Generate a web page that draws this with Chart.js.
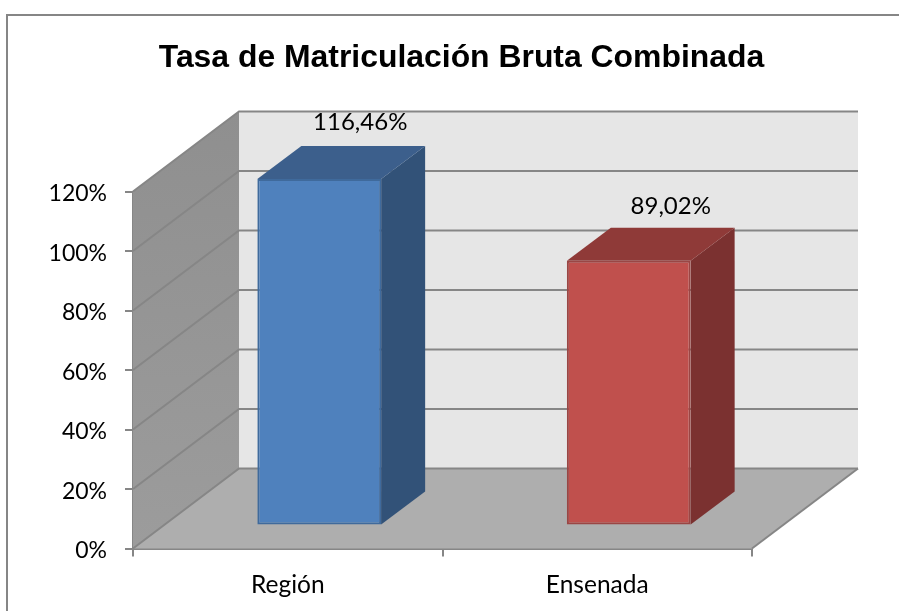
<!DOCTYPE html>
<html>
<head>
<meta charset="utf-8">
<style>html,body{margin:0;padding:0;background:#fff}#wrap{position:absolute;left:0;top:0;width:899px;height:611px}</style>
<script src="https://cdn.jsdelivr.net/npm/chart.js@4/dist/chart.umd.js"></script>
</head>
<body>
<div id="wrap"><canvas id="c" width="899" height="611"></canvas></div>
<script>
const categories = ['Región', 'Ensenada'];
const seriesValues = [116.46, 89.02];
const valueLabels = ['116,46%', '89,02%'];
const barFill = ['#4f81bd', '#c0504d'];
const barEdge = ['#3f6a9c', '#9a4644'];
const barTop = ['#3c5f8c', '#8f3a38'];
const barSide = ['#325278', '#7b3130'];
const yMax = 120;
const yStep = 20;
const titleText = 'Tasa de Matriculación Bruta Combinada';

const DX = 106, DY = 80;         // wall depth offset
const FX = 31.5, FY = 23;        // bar front face offset
const BX = 44, BY = 33;          // bar depth
const GRID = '#868686';
const labelShift = [[41, 57], [42, 54.5]]; // data label offset from the bar's front top

function poly(ctx, pts, fill, stroke, lw) {
  ctx.beginPath();
  pts.forEach((p, i) => i ? ctx.lineTo(p[0], p[1]) : ctx.moveTo(p[0], p[1]));
  ctx.closePath();
  if (fill) { ctx.fillStyle = fill; ctx.fill(); }
  if (stroke) { ctx.strokeStyle = stroke; ctx.lineWidth = lw || 1; ctx.stroke(); }
}

const frame3d = {
  id: 'frame3d',
  afterLayout(chart) {
    chart.titleBlock.left = 24;
    chart.titleBlock.right = 899;
    const ys = chart.scales.y;
    if (!ys.__shifted) {
      ys.__shifted = true;
      const orig = ys.drawLabels.bind(ys);
      ys.drawLabels = function (area) {
        chart.ctx.save();
        chart.ctx.translate(0, 2.5);
        orig(area);
        chart.ctx.restore();
      };
    }
  },
  beforeDraw(chart) {
    const ctx = chart.ctx;
    ctx.save();
    ctx.fillStyle = '#ffffff';
    ctx.fillRect(0, 0, 899, 611);
    ctx.strokeStyle = GRID; ctx.lineWidth = 2;
    ctx.beginPath();
    ctx.moveTo(7, 611); ctx.lineTo(7, 15); ctx.lineTo(899, 15);
    ctx.stroke();
    ctx.restore();
  },
  beforeDatasetsDraw(chart) {
    const ctx = chart.ctx, a = chart.chartArea, y = chart.scales.y;
    const L = a.left, R = a.right, T = a.top, B = a.bottom;
    ctx.save();
    // back wall
    poly(ctx, [[L+DX,T-DY],[R+DX,T-DY],[R+DX,B-DY],[L+DX,B-DY]], '#e6e6e6');
    // left wall
    const g = ctx.createLinearGradient(0, T-DY, 0, B);
    g.addColorStop(0, '#8f8f8f'); g.addColorStop(1, '#9c9c9c');
    poly(ctx, [[L,T],[L+DX,T-DY],[L+DX,B-DY],[L,B]], g);
    // floor
    poly(ctx, [[L,B],[L+DX,B-DY],[R+DX,B-DY],[R,B]], '#aeaeae');
    // gridlines from the value scale
    ctx.strokeStyle = GRID; ctx.lineWidth = 2;
    for (let v = 0; v <= yMax; v += yStep) {
      const p = y.getPixelForValue(v);
      ctx.beginPath();
      ctx.moveTo(L, p); ctx.lineTo(L+DX, p-DY); ctx.lineTo(R+DX, p-DY);
      ctx.stroke();
    }
    // floor right edge
    ctx.beginPath(); ctx.moveTo(R, B); ctx.lineTo(R+DX, B-DY); ctx.stroke();
    // bar sides and tops, from the bar elements
    const meta = chart.getDatasetMeta(0);
    meta.data.forEach((b, i) => {
      const x0 = b.x - b.width/2 + FX, x1 = b.x + b.width/2 + FX;
      const yt = b.y - FY, yb = b.base - FY;
      poly(ctx, [[x1,yt],[x1+BX,yt-BY],[x1+BX,yb-BY],[x1,yb]], barSide[i]);
      poly(ctx, [[x0,yt],[x0+BX,yt-BY],[x1+BX,yt-BY],[x1,yt]], barTop[i]);
    });
    ctx.restore();
  },
  beforeDatasetDraw(chart) {
    chart.ctx.save();
    chart.ctx.translate(FX, -FY);
  },
  afterDatasetDraw(chart) {
    chart.ctx.restore();
  },
  afterDatasetsDraw(chart) {
    const ctx = chart.ctx;
    const meta = chart.getDatasetMeta(0);
    ctx.save();
    ctx.fillStyle = '#000';
    ctx.font = '24px Lato';
    ctx.textAlign = 'center';
    ctx.textBaseline = 'middle';
    meta.data.forEach((b, i) => {
      ctx.fillText(valueLabels[i], b.x + FX + labelShift[i][0], b.y - FY - labelShift[i][1]);
    });
    ctx.restore();
  }
};

new Chart(document.getElementById('c'), {
  type: 'bar',
  plugins: [frame3d],
  data: {
    labels: categories,
    datasets: [{
      data: seriesValues,
      backgroundColor: barFill,
      borderColor: barEdge,
      borderWidth: 2,
      borderSkipped: false,
      clip: false,
      categoryPercentage: 0.4,
      barPercentage: 1
    }]
  },
  options: {
    responsive: false,
    animation: false,
    layout: { padding: { left: 0, right: 147, top: 0, bottom: 0 } },
    plugins: {
      legend: { display: false },
      tooltip: { enabled: false },
      title: {
        display: true,
        text: titleText,
        color: '#000',
        font: { family: '"Liberation Sans"', size: 31.9, weight: 'bold', lineHeight: 1.2 },
        padding: { top: 39, bottom: 114.22 },
        align: 'center'
      }
    },
    scales: {
      x: {
        afterFit(s) { s.height = 62.5; },
        grid: { drawOnChartArea: false, color: GRID, lineWidth: 2, tickLength: 8, offset: true },
        border: { color: GRID, width: 3 },
        ticks: { color: '#000', font: { family: 'Lato', size: 24.5 }, padding: 14, maxRotation: 0 }
      },
      y: {
        min: 0, max: yMax,
        afterFit(s) { s.width = 133; },
        grid: { drawOnChartArea: false, color: GRID, lineWidth: 2, tickLength: 8 },
        border: { color: GRID, width: 2 },
        ticks: { stepSize: yStep, color: '#000', font: { family: 'Lato', size: 23 }, padding: 18,
                 callback: v => v + '%' }
      }
    }
  }
});
</script>
</body>
</html>
